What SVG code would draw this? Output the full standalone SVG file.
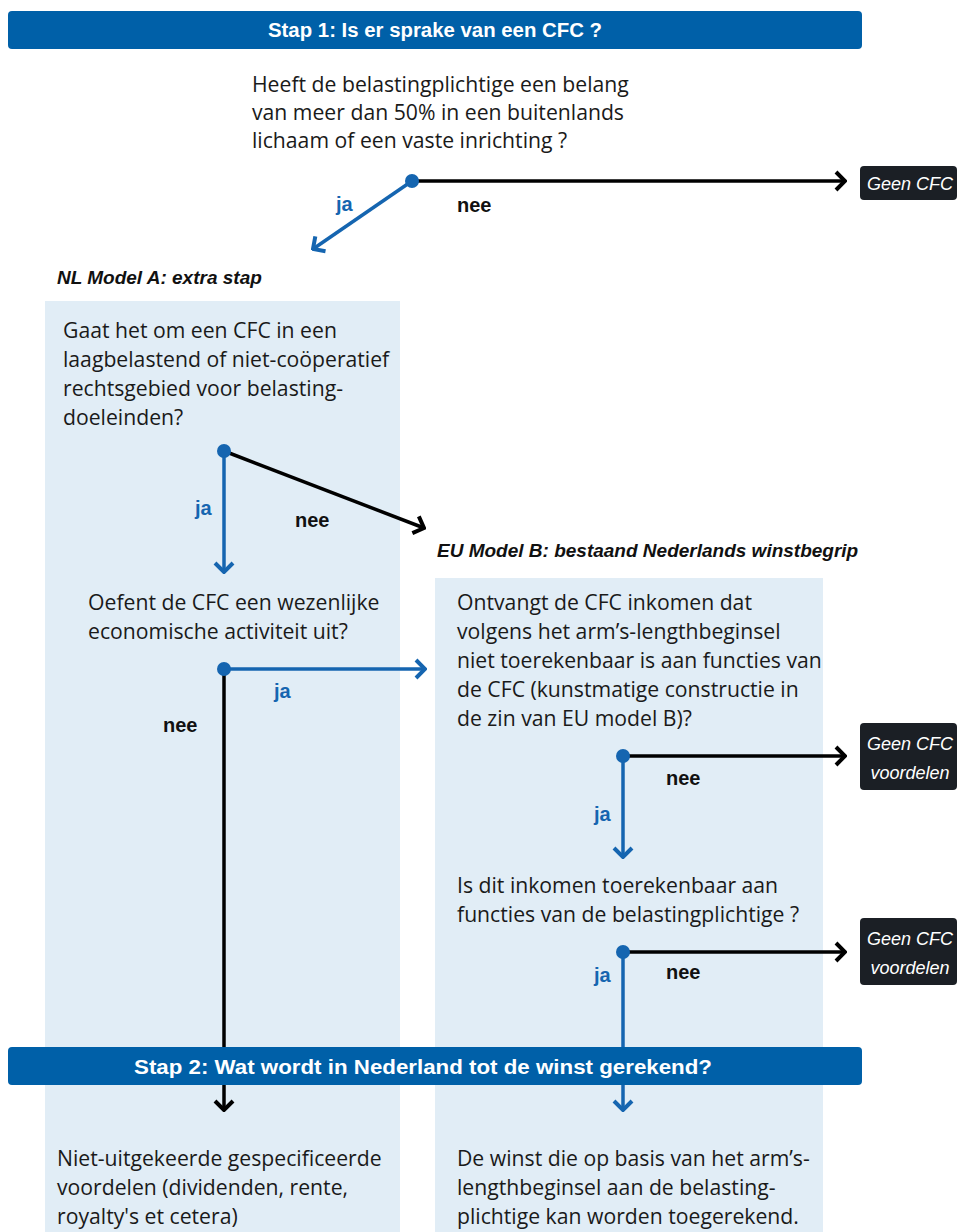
<svg xmlns="http://www.w3.org/2000/svg" width="965" height="1232" viewBox="0 0 965 1232">
<style>
.banner{fill:#0060A8}
.bt{font-family:"Liberation Sans",Arial,sans-serif;font-weight:bold;font-size:20px;fill:#fff;text-anchor:middle}
.panel{fill:#E1EDF6}
.q{font-family:"Open Sans","Liberation Sans",Arial,sans-serif;font-size:21.2px;fill:#1a1a1a}
.h{font-family:"Liberation Sans",Arial,sans-serif;font-size:19px;font-weight:bold;font-style:italic;fill:#111}
.lblk{font-family:"Liberation Sans",Arial,sans-serif;font-size:20px;font-weight:bold;fill:#111}
.lblu{font-family:"Liberation Sans",Arial,sans-serif;font-size:20px;font-weight:bold;fill:#1565B0}
.box{fill:#1b1f25}
.bx{font-family:"Liberation Sans",Arial,sans-serif;font-size:18px;font-style:italic;fill:#fff;text-anchor:middle}
.cb{stroke:#000;stroke-width:3.5;fill:none}
.cu{stroke:#1565B0;stroke-width:3.5;fill:none}
.dot{fill:#1565B0}
</style>
<defs>
<marker id="ab" viewBox="-12 -11 14 22" refX="0" refY="0" markerWidth="14" markerHeight="22" markerUnits="userSpaceOnUse" orient="auto">
<path d="M-9,-9 L0,0 L-9,9" fill="none" stroke="#000" stroke-width="4"/>
</marker>
<marker id="au" viewBox="-12 -11 14 22" refX="0" refY="0" markerWidth="14" markerHeight="22" markerUnits="userSpaceOnUse" orient="auto">
<path d="M-9,-9 L0,0 L-9,9" fill="none" stroke="#1565B0" stroke-width="4"/>
</marker>
</defs>
<rect width="965" height="1232" fill="#fff"/>
<g id="panels">
<rect class="panel" x="45" y="301" width="355" height="931"/>
<rect class="panel" x="435" y="578" width="388" height="654"/>
</g>
<g id="headers">
<text class="h" x="57" y="284">NL Model A: extra stap</text>
<text class="h" x="437" y="557">EU Model B: bestaand Nederlands winstbegrip</text>
</g>
<g id="connectors">
<line class="cb" x1="412" y1="181" x2="845" y2="181" marker-end="url(#ab)"/>
<line class="cu" x1="412" y1="181" x2="313" y2="249" marker-end="url(#au)"/>
<line class="cu" x1="224" y1="451" x2="224" y2="572" marker-end="url(#au)"/>
<line class="cb" x1="224" y1="451" x2="424" y2="528" marker-end="url(#ab)"/>
<line class="cu" x1="224" y1="669" x2="425" y2="669" marker-end="url(#au)"/>
<line class="cb" x1="224" y1="669" x2="224" y2="1110" marker-end="url(#ab)"/>
<line class="cb" x1="623" y1="756" x2="845" y2="756" marker-end="url(#ab)"/>
<line class="cu" x1="623" y1="756" x2="623" y2="857" marker-end="url(#au)"/>
<line class="cb" x1="623" y1="952" x2="845" y2="952" marker-end="url(#ab)"/>
<line class="cu" x1="623" y1="952" x2="623" y2="1110" marker-end="url(#au)"/>
<circle class="dot" cx="412" cy="181" r="7"/>
<circle class="dot" cx="224" cy="451" r="7"/>
<circle class="dot" cx="224" cy="669" r="7"/>
<circle class="dot" cx="623" cy="756" r="7"/>
<circle class="dot" cx="623" cy="952" r="7"/>
<text class="lblu" x="336" y="211">ja</text>
<text class="lblk" x="457" y="212">nee</text>
<text class="lblu" x="195" y="515">ja</text>
<text class="lblk" x="295" y="527">nee</text>
<text class="lblu" x="274" y="698">ja</text>
<text class="lblk" x="163" y="732">nee</text>
<text class="lblk" x="666" y="785">nee</text>
<text class="lblu" x="594" y="821">ja</text>
<text class="lblk" x="666" y="979">nee</text>
<text class="lblu" x="594" y="982">ja</text>
</g>
<g id="stap1">
<rect class="banner" x="8" y="11" width="854" height="38" rx="4"/>
<text class="bt" x="435" y="37" textLength="334" lengthAdjust="spacingAndGlyphs">Stap 1: Is er sprake van een CFC ?</text>
</g>
<g id="q1">
<text class="q" x="252" y="92">Heeft de belastingplichtige een belang</text>
<text class="q" x="252" y="120">van meer dan 50% in een buitenlands</text>
<text class="q" x="252" y="148">lichaam of een vaste inrichting ?</text>
</g>
<g id="geen1">
<rect class="box" x="860" y="166" width="97" height="34" rx="4"/>
<text class="bx" x="910" y="190">Geen CFC</text>
</g>
<g id="q2">
<text class="q" x="63" y="338">Gaat het om een CFC in een</text>
<text class="q" x="63" y="367">laagbelastend of niet-coöperatief</text>
<text class="q" x="63" y="396">rechtsgebied voor belasting-</text>
<text class="q" x="63" y="425">doeleinden?</text>
</g>
<g id="q3">
<text class="q" x="88" y="610">Oefent de CFC een wezenlijke</text>
<text class="q" x="88" y="639">economische activiteit uit?</text>
</g>
<g id="q4">
<text class="q" x="457" y="610">Ontvangt de CFC inkomen dat</text>
<text class="q" x="457" y="639">volgens het arm’s-lengthbeginsel</text>
<text class="q" x="457" y="668">niet toerekenbaar is aan functies van</text>
<text class="q" x="457" y="697">de CFC (kunstmatige constructie in</text>
<text class="q" x="457" y="726">de zin van EU model B)?</text>
</g>
<g id="geen2">
<rect class="box" x="860" y="723" width="97" height="67" rx="4"/>
<text class="bx" x="910" y="750">Geen CFC</text>
<text class="bx" x="910" y="779">voordelen</text>
</g>
<g id="q5">
<text class="q" x="457" y="893">Is dit inkomen toerekenbaar aan</text>
<text class="q" x="457" y="922">functies van de belastingplichtige ?</text>
</g>
<g id="geen3">
<rect class="box" x="860" y="918" width="97" height="67" rx="4"/>
<text class="bx" x="910" y="945">Geen CFC</text>
<text class="bx" x="910" y="974">voordelen</text>
</g>
<g id="stap2">
<rect class="banner" x="8" y="1047" width="854" height="38" rx="4"/>
<text class="bt" x="423" y="1074" textLength="578" lengthAdjust="spacingAndGlyphs">Stap 2: Wat wordt in Nederland tot de winst gerekend?</text>
</g>
<g id="r1">
<text class="q" x="57" y="1166">Niet-uitgekeerde gespecificeerde</text>
<text class="q" x="57" y="1195">voordelen (dividenden, rente,</text>
<text class="q" x="57" y="1224">royalty's et cetera)</text>
</g>
<g id="r2">
<text class="q" x="457" y="1166">De winst die op basis van het arm’s-</text>
<text class="q" x="457" y="1195">lengthbeginsel aan de belasting-</text>
<text class="q" x="457" y="1224">plichtige kan worden toegerekend.</text>
</g>
</svg>
